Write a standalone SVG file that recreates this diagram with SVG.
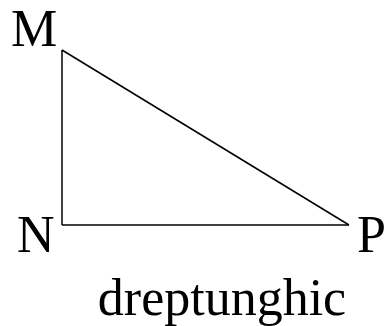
<svg xmlns="http://www.w3.org/2000/svg" width="384" height="326" viewBox="0 0 384 326">
<style>
.lbl{font-family:"Liberation Serif","Times New Roman",serif;font-size:52px;fill:#000}
.edge{fill:none;stroke:#000;stroke-width:1.5}
</style>
<rect width="384" height="326" fill="#fff"/>
<g id="connectors">
<path class="edge" d="M62,50 L62,225"/>
<path class="edge" d="M62,225 L349,225"/>
<path class="edge" d="M62,50 L349,225"/>
</g>
<g id="node-M"><text class="lbl" x="11" y="46">M</text></g>
<g id="node-N"><text class="lbl" x="17" y="252">N</text></g>
<g id="node-P"><text class="lbl" x="357" y="252">P</text></g>
<g id="caption"><text class="lbl" x="222" y="315" text-anchor="middle">dreptunghic</text></g>
</svg>
